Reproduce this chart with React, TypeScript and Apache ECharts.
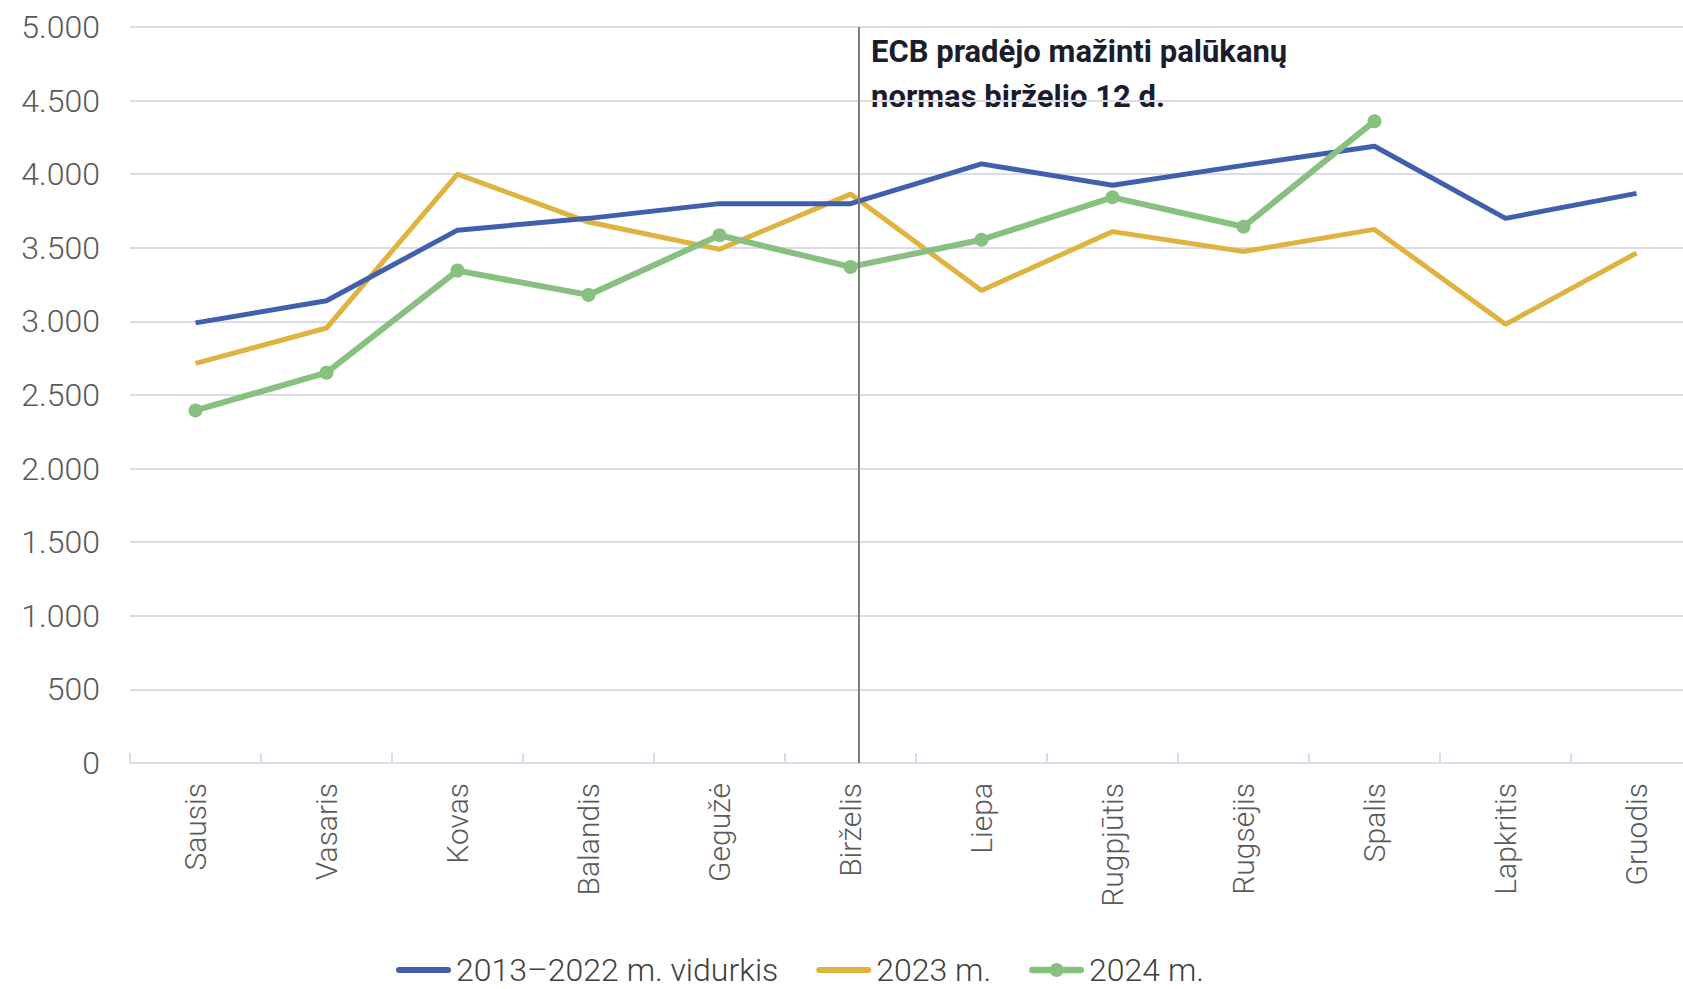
import React, { useEffect, useRef } from "react";
import * as echarts from "echarts";

const months = ["Sausis", "Vasaris", "Kovas", "Balandis", "Gegužė", "Birželis", "Liepa", "Rugpjūtis", "Rugsėjis", "Spalis", "Lapkritis", "Gruodis"];
const avg2013_2022 = [2990, 3140, 3620, 3700, 3800, 3800, 4070, 3925, 4060, 4190, 3700, 3870];
const y2023 = [2715, 2955, 4000, 3675, 3490, 3865, 3210, 3610, 3475, 3625, 2980, 3465];
const y2024 = [2395, 2652, 3345, 3180, 3585, 3370, 3555, 3843, 3643, 4360, null, null];
const seriesNames = ["2013–2022 m. vidurkis", "2023 m.", "2024 m."];
const ecbCutPosition = 5.56; // position along month axis (0..12)
const annotationLines = ["ECB pradėjo mažinti palūkanų", "normas birželio 12 d."];

const FONT = "Roboto, 'Noto Sans', sans-serif";

const lineIcon = "path://M3,0H53A3,3,0,0,1,53,6H3A3,3,0,0,1,3,0Z";
const lineDotIcon =
  "path://M3.5,4H55.5A3.5,3.5,0,0,1,55.5,11H3.5A3.5,3.5,0,0,1,3.5,4Z M22,7.5A7.5,7.5,0,1,1,37,7.5A7.5,7.5,0,1,1,22,7.5Z";

function fmt(v: number): string {
  return String(v).replace(/\B(?=(\d{3})+(?!\d))/g, ".");
}

export default function App() {
  const ref = useRef<HTMLDivElement>(null);
  useEffect(() => {
    document.body.style.margin = "0";
    const chart = echarts.init(ref.current!, null, { renderer: "svg" });
    const gridColor = "#dcdbe9";
    chart.setOption({
      animation: false,
      grid: { left: 130, top: 27, width: 1572, height: 736, containLabel: false, outerBoundsMode: "none" },
      legend: {
        data: [
          { name: seriesNames[0], icon: lineIcon, itemStyle: { color: "#4060ad" } },
          { name: seriesNames[1], icon: lineIcon, itemStyle: { color: "#dfb33f" } },
          { name: seriesNames[2], icon: lineDotIcon, itemStyle: { color: "#88c080" } },
        ],
        left: 391,
        top: 949,
        itemWidth: 55,
        itemHeight: 15,
        itemGap: 38,
        textStyle: { fontFamily: FONT, fontWeight: 300, fontSize: 32, lineHeight: 28, color: "#404040" },
      },
      xAxis: [
        {
          type: "category",
          data: months,
          boundaryGap: true,
          axisLine: { lineStyle: { color: gridColor, width: 2 } },
          axisTick: { show: true, inside: true, length: 10, lineStyle: { color: gridColor, width: 2 } },
          axisLabel: { rotate: 90, margin: 20, fontSize: 30, fontFamily: FONT, fontWeight: 300, color: "#595959" },
        },
        { type: "value", min: 0, max: 12, show: false },
      ],
      yAxis: {
        type: "value",
        min: 0,
        max: 5000,
        interval: 500,
        axisLine: { show: false },
        axisTick: { show: false },
        axisLabel: { margin: 30, fontSize: 32, fontFamily: FONT, fontWeight: 300, color: "#595959", formatter: (v: number) => fmt(v) },
        splitLine: { lineStyle: { color: gridColor, width: 2 } },
      },
      series: [
        {
          name: seriesNames[0],
          type: "line",
          data: avg2013_2022,
          symbol: "none",
          lineStyle: { color: "#4060ad", width: 5 },
          itemStyle: { color: "#4060ad" },
          z: 3,
        },
        {
          name: seriesNames[1],
          type: "line",
          data: y2023,
          symbol: "none",
          lineStyle: { color: "#dfb33f", width: 5 },
          itemStyle: { color: "#dfb33f" },
          z: 2,
        },
        {
          name: seriesNames[2],
          type: "line",
          data: y2024,
          symbol: "circle",
          symbolSize: 14,
          showSymbol: true,
          lineStyle: { color: "#88c080", width: 6 },
          itemStyle: { color: "#88c080" },
          z: 4,
        },
        {
          name: "ecb",
          type: "line",
          xAxisIndex: 1,
          data: [],
          markLine: {
            silent: true,
            symbol: "none",
            label: { show: false },
            lineStyle: { color: "#7f7f7f", width: 2, type: "solid" },
            data: [{ xAxis: ecbCutPosition }],
          },
        },
      ],
      graphic: [
        {
          type: "text",
          left: 871,
          top: 29,
          style: {
            text: annotationLines.join("\n"),
            fontFamily: FONT,
            fontWeight: "bold",
            fontSize: 31,
            lineHeight: 45,
            fill: "#1c1c2c",
          },
        },
      ],
    });
    return () => chart.dispose();
  }, []);
  return <div ref={ref} style={{ width: 1683, height: 989 }} />;
}
